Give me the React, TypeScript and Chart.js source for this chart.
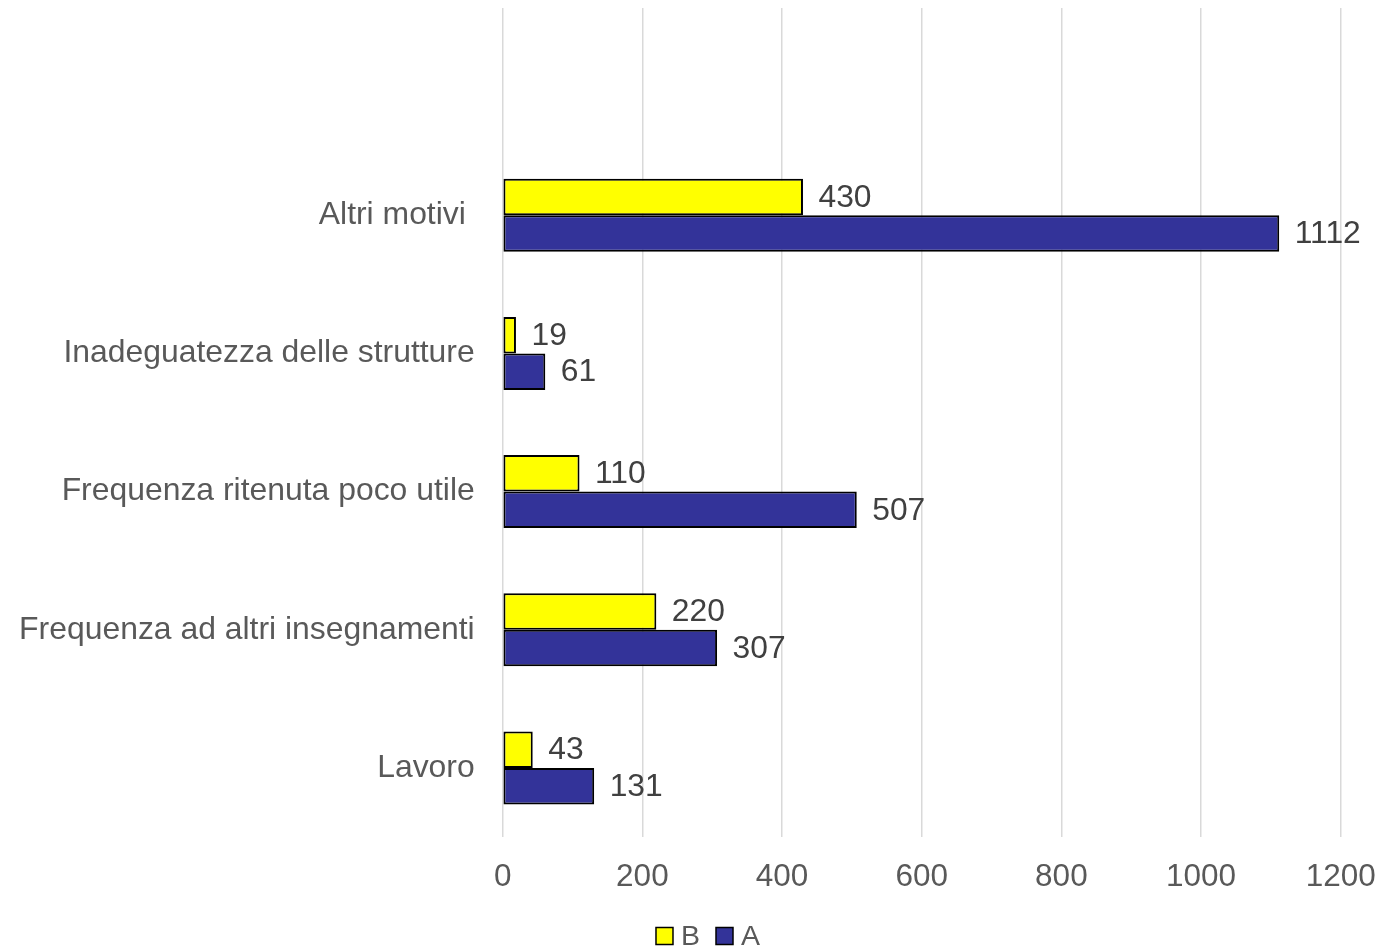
import React, { useEffect, useRef } from "react";
import { Chart, registerables } from "chart.js";

Chart.register(...registerables);

const categories = [
  "",
  "Altri motivi ",
  "Inadeguatezza delle strutture",
  "Frequenza ritenuta poco utile",
  "Frequenza ad altri insegnamenti",
  "Lavoro",
];
const seriesB = [null, 430, 19, 110, 220, 43];
const seriesA = [null, 1112, 61, 507, 307, 131];
const xTicks = [0, 200, 400, 600, 800, 1000, 1200];

const FONT = "'Liberation Sans', Arial, sans-serif";

const valueLabels = {
  id: "valueLabels",
  afterDatasetsDraw(chart: any) {
    const ctx = chart.ctx;
    ctx.save();
    ctx.font = `31.8px ${FONT}`;
    ctx.fillStyle = "#404040";
    ctx.textAlign = "left";
    ctx.textBaseline = "middle";
    chart.data.datasets.forEach((ds: any, di: number) => {
      const meta = chart.getDatasetMeta(di);
      meta.data.forEach((el: any, i: number) => {
        const v = ds.data[i];
        if (v === null || v === undefined) return;
        ctx.fillText(String(v), el.x + 15.5, el.y + 1);
      });
    });
    ctx.restore();
  },
};

const customLegend = {
  id: "customLegend",
  afterDraw(chart: any) {
    const ctx = chart.ctx;
    ctx.save();
    const fontSize = 28.5;
    ctx.font = `${fontSize}px ${FONT}`;
    const box = 17;
    const gap = 8;
    const spacing = 16;
    const items = chart.data.datasets.map((ds: any) => ({
      text: ds.label,
      color: ds.backgroundColor,
      w: box + gap + ctx.measureText(ds.label).width,
    }));
    const total = items.reduce((s: number, it: any) => s + it.w, 0) + spacing * (items.length - 1);
    let x = (chart.width + 28) / 2 - total / 2;
    const cy = chart.height - 16;
    items.forEach((it: any) => {
      ctx.fillStyle = it.color;
      ctx.fillRect(x, cy - box / 2, box, box);
      ctx.lineWidth = 1.5;
      ctx.strokeStyle = "#000000";
      ctx.strokeRect(x, cy - box / 2, box, box);
      ctx.fillStyle = "#595959";
      ctx.textAlign = "left";
      ctx.textBaseline = "middle";
      ctx.fillText(it.text, x + box + gap, cy + 1);
      x += it.w + spacing;
    });
    ctx.restore();
  },
};

export default function App() {
  const ref = useRef<HTMLCanvasElement>(null);
  useEffect(() => {
    document.body.style.margin = "0";
    const chart = new Chart(ref.current as HTMLCanvasElement, {
      type: "bar",
      data: {
        labels: categories,
        datasets: [
          {
            label: "B",
            data: seriesB,
            backgroundColor: "#FFFF00",
            borderColor: "#000000",
            borderWidth: 2,
            borderSkipped: false,
            categoryPercentage: 0.528,
            barPercentage: 1,
          },
          {
            label: "A",
            data: seriesA,
            backgroundColor: "#333399",
            borderColor: "#000000",
            borderWidth: 2,
            borderSkipped: false,
            categoryPercentage: 0.528,
            barPercentage: 1,
          },
        ],
      },
      options: {
        indexAxis: "y",
        animation: false,
        responsive: false,
        maintainAspectRatio: false,
        layout: { padding: { top: 8, left: 0, right: 47.3, bottom: 55 } },
        plugins: {
          legend: { display: false },
          tooltip: { enabled: false },
        },
        scales: {
          x: {
            min: 0,
            max: 1200,
            afterBuildTicks: (axis: any) => {
              axis.ticks = xTicks.map((v) => ({ value: v }));
            },
            afterFit: (axis: any) => {
              axis.height = 60;
              axis.paddingLeft = 0;
              axis.paddingRight = 0;
            },
            grid: { color: "#d9d9d9", lineWidth: 1.5, drawTicks: false },
            border: { display: false },
            ticks: {
              color: "#595959",
              font: { family: FONT, size: 31.5 },
              padding: 21,
              maxRotation: 0,
              callback: (v: any) => String(v),
            },
          },
          y: {
            grid: { display: false, drawTicks: false },
            border: { display: false },
            afterFit: (axis: any) => {
              axis.width = 502.7;
              axis.paddingTop = 0;
              axis.paddingBottom = 0;
            },
            ticks: {
              color: "#595959",
              font: { family: FONT, size: 31.9 },
              padding: 28,
              autoSkip: false,
            },
          },
        },
      },
      plugins: [valueLabels, customLegend],
    });
    return () => chart.destroy();
  }, []);
  return (
    <div style={{ width: 1388, height: 952 }}>
      <canvas ref={ref} width={1388} height={952} style={{ display: "block" }} />
    </div>
  );
}
